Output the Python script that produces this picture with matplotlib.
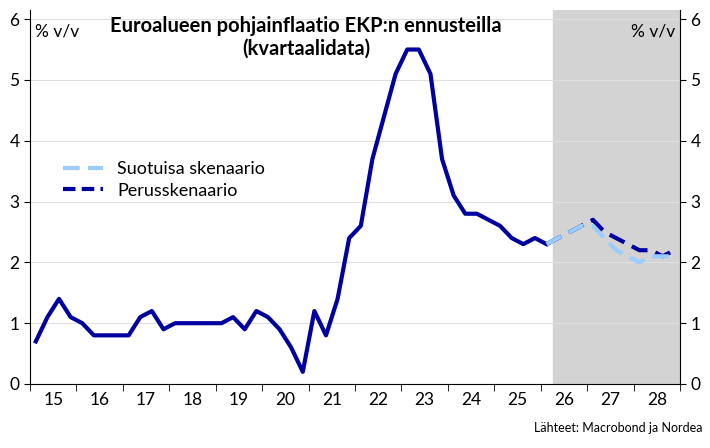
import matplotlib
matplotlib.use("Agg")
import matplotlib.pyplot as plt
import numpy as np

plt.rcParams['font.family'] = ['Lato', 'DejaVu Sans']

years = list(range(2015, 2029))
year_labels = [str(y % 100) for y in years]
actual = [0.7,1.1,1.4,1.1,1.0,0.8,0.8,0.8,0.8,1.1,1.2,0.9,1.0,1.0,1.0,1.0,
          1.0,1.1,0.9,1.2,1.1,0.9,0.6,0.2,1.2,0.8,1.4,2.4,2.6,3.7,4.4,5.1,
          5.5,5.5,5.1,3.7,3.1,2.8,2.8,2.7,2.6,2.4,2.3,2.4,2.3]
base = [2.3,2.4,2.5,2.6,2.7,2.5,2.4,2.3,2.2,2.2,2.1,2.2]
favourable = [2.3,2.4,2.5,2.6,2.6,2.4,2.2,2.1,2.0,2.1,2.1,2.1]
forecast_start = 45.1  # quarter index where shaded forecast area starts

W, H = 710, 448
fig = plt.figure(figsize=(W/100, H/100), dpi=100)
ax = fig.add_axes([30/W, 1-384/H, 650/W, 374/H])
n = len(years) * 4
x_act = np.arange(len(actual)) + 0.5
x_fc = np.arange(len(actual)-1, len(actual)-1+len(base)) + 0.5
ax.axvspan(forecast_start, n, color='#d3d3d3', zorder=0)
for y in range(1, 7):
    ax.axhline(y, color='#e0e0e0', lw=0.8, zorder=0)
ax.plot(x_act, actual, color='#0000a0', lw=3, zorder=3)
ax.plot(x_fc, favourable, color='#99ccff', lw=3, ls=(0, (4, 2)), zorder=4)
ax.plot(x_fc, base, color='#0000a0', lw=3, ls=(0, (4, 2)), zorder=3)
ax.plot([], [], color='#99ccff', lw=3, ls=(0, (4, 2)), label='Suotuisa skenaario')
ax.plot([], [], color='#0000a0', lw=3, ls=(0, (3, 1.5)), label='Perusskenaario')
ax.legend(loc='upper left', bbox_to_anchor=(0.04, 0.615), frameon=False, fontsize=13,
          handlelength=2.2, borderaxespad=0, labelspacing=0.3)
ax.set_xlim(0, n)
ax.set_ylim(0, 6.15)
ax.set_yticks(range(7))
ax.tick_params(axis='y', labelsize=12.5, right=True, labelright=True, length=4)
ax.set_xticks(np.arange(len(years)) * 4 + 2)
ax.set_xticklabels(year_labels, fontsize=12.5)
ax.set_xticks(np.arange(len(years) + 1) * 4, minor=True)
ax.tick_params(axis='x', which='major', length=0, pad=6)
ax.tick_params(axis='x', which='minor', length=5)
ax.spines['top'].set_visible(False)
ax.text(0.008, 0.965, '% v/v', transform=ax.transAxes, fontsize=12.5, va='top')
ax.text(0.992, 0.965, '% v/v', transform=ax.transAxes, fontsize=12.5, va='top', ha='right')
ax.text(0.425, 0.985, 'Euroalueen pohjainflaatio EKP:n ennusteilla\n(kvartaalidata)',
        transform=ax.transAxes, fontsize=14.5, fontweight='bold', ha='center', va='top')
fig.text(703/W, 1-428/H, 'Lähteet: Macrobond ja Nordea', fontsize=9, ha='right', va='center')
fig.savefig('out.png', dpi=100)
